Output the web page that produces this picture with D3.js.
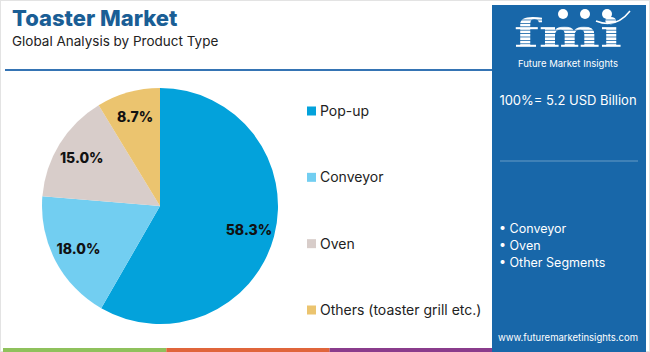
<!DOCTYPE html>
<html>
<head>
<meta charset="utf-8">
<script src="https://cdn.jsdelivr.net/npm/d3@7"></script>
<style>
  body { margin: 0; background: #fff; }
  svg { display: block; font-family: "Inter", "Open Sans", sans-serif; }
</style>
</head>
<body>
<div id="plot"></div>
<script>
// chart data
const categories = ["Pop-up", "Conveyor", "Oven", "Others (toaster grill etc.)"];
const shares = [58.3, 18.0, 15.0, 8.7];
const colors = ["#03a2db", "#72cef1", "#d8cdca", "#ebc46f"];
const bullets = ["Conveyor", "Oven", "Other Segments"];
const bottomBars = ["#8fc15c", "#e0653b", "#8a3c8c"];

const width = 650,
  height = 352;
const svg = d3.select("#plot").append("svg").attr("width", width).attr("height", height);

// frame
svg.append("rect").attr("x", 0.5).attr("y", 0.5).attr("width", width - 1).attr("height", height - 1)
  .attr("fill", "#fff").attr("stroke", "#e3e3e3");

// title
svg.append("text").attr("x", 12).attr("y", 26).text("Toaster Market")
  .attr("font-size", 22).attr("font-weight", 800).attr("fill", "#1a5e95");
svg.append("text").attr("x", 12).attr("y", 46).text("Global Analysis by Product Type")
  .attr("font-size", 13.5).attr("fill", "#222");
svg.append("line").attr("x1", 5).attr("x2", 492).attr("y1", 70).attr("y2", 70)
  .attr("stroke", "#3574b4").attr("stroke-width", 2);

// bottom strip
const xBars = d3.scaleBand().domain(d3.range(bottomBars.length)).range([3, 493]);
svg.append("g").selectAll("rect").data(bottomBars).join("rect")
  .attr("x", (d, i) => xBars(i)).attr("y", 348).attr("width", xBars.bandwidth()).attr("height", 4)
  .attr("fill", d => d);

// pie
const cx = 160, cy = 206, r = 118;
const pie = d3.pie().sort(null).value(d => d)(shares);
const arc = d3.arc().innerRadius(0).outerRadius(r);
const labelArc = d3.arc().innerRadius(r * 0.78).outerRadius(r * 0.78);
const g = svg.append("g").attr("transform", `translate(${cx},${cy})`);
g.selectAll("path").data(pie).join("path").attr("d", arc).attr("fill", (d, i) => colors[i]);
g.selectAll("text").data(pie).join("text")
  .attr("transform", d => `translate(${labelArc.centroid(d)})`)
  .attr("text-anchor", "middle").attr("dy", "0.35em")
  .attr("font-size", 14).attr("font-weight", 800).attr("fill", "#111")
  .text(d => d.data.toFixed(1) + "%");

// legend
const yLeg = d3.scalePoint().domain(categories).range([111, 310]);
const leg = svg.append("g").selectAll("g").data(categories).join("g")
  .attr("transform", d => `translate(307,${yLeg(d)})`);
leg.append("rect").attr("x", 0).attr("y", -4.5).attr("width", 9).attr("height", 9)
  .attr("fill", (d, i) => colors[i]);
leg.append("text").attr("x", 13).attr("dy", "0.35em").attr("font-size", 14).attr("fill", "#222").text(d => d);

// right panel
const px = 492, pw = 154;
svg.append("rect").attr("x", px).attr("y", 5).attr("width", pw).attr("height", height - 5).attr("fill", "#1867a9");

// logo
const defs = svg.append("defs");
const pat = defs.append("pattern").attr("id", "stripes").attr("patternUnits", "userSpaceOnUse")
  .attr("width", 6).attr("height", 3.4);
pat.append("rect").attr("width", 6).attr("height", 2.6).attr("fill", "#fff");
svg.append("text").attr("x", 568).attr("y", 47).attr("text-anchor", "middle")
  .attr("font-family", "DejaVu Serif, serif").attr("font-weight", "bold").attr("font-size", 40)
  .attr("textLength", 108).attr("lengthAdjust", "spacingAndGlyphs")
  .attr("fill", "url(#stripes)").text("fmi");
svg.append("g").selectAll("circle").data([563, 585, 607]).join("circle")
  .attr("cx", d => d).attr("cy", 14).attr("r", 5).attr("fill", "#fff");
svg.append("path").attr("d", "M596,21 Q616,29 630,11").attr("fill", "none").attr("stroke", "#fff").attr("stroke-width", 1.5);
svg.append("text").attr("x", 568).attr("y", 67).attr("text-anchor", "middle")
  .attr("font-size", 9.5).attr("fill", "#fff").text("Future Market Insights");

svg.append("text").attr("x", 568).attr("y", 105).attr("text-anchor", "middle")
  .attr("font-size", 13).attr("fill", "#fff").text("100%= 5.2 USD Billion");
svg.append("line").attr("x1", 500).attr("x2", 638).attr("y1", 161).attr("y2", 161)
  .attr("stroke", "#fff").attr("stroke-opacity", 0.35);

const yBul = d3.scalePoint().domain(bullets).range([229, 263]);
svg.append("g").selectAll("text").data(bullets).join("text")
  .attr("x", 499).attr("y", d => yBul(d)).attr("dy", "0.35em")
  .attr("font-size", 12.5).attr("fill", "#fff").text(d => "\u2022 " + d);

svg.append("text").attr("x", 568).attr("y", 341).attr("text-anchor", "middle")
  .attr("font-size", 9.5).attr("fill", "#fff").text("www.futuremarketinsights.com");
</script>
</body>
</html>
